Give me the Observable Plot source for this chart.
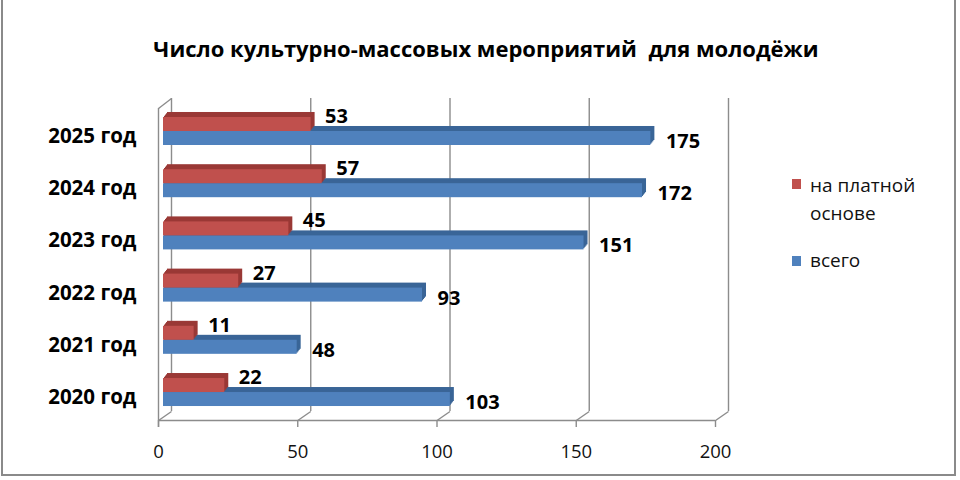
<!DOCTYPE html>
<html>
<head>
<meta charset="utf-8">
<script src="https://cdn.jsdelivr.net/npm/d3@7"></script>
<script src="https://cdn.jsdelivr.net/npm/@observablehq/plot@0.6"></script>
<style>
  html, body { margin: 0; padding: 0; background: #fff; }
  #wrap { position: relative; width: 960px; height: 480px; overflow: hidden; font-family: "Open Sans", sans-serif; }
  #frame { position: absolute; left: 1px; top: -3px; width: 955px; height: 479px; border: 2px solid #8a8a8a; box-sizing: border-box; }
  #title { position: absolute; left: 6px; top: 36px; width: 960px; text-align: center; font-weight: bold; font-size: 22px; line-height: 24px; color: #000; white-space: pre; }
  #chart { position: absolute; left: 0; top: 0; }
  .lg { position: absolute; font-size: 19px; line-height: 28px; color: #111; }
  .sw { position: absolute; width: 9px; height: 10px; }
</style>
</head>
<body>
<div id="wrap">
  <div id="frame"></div>
  <div id="chart"></div>
  <div id="title"></div>
  <div id="legend"></div>
</div>
<script>
const title = "Число культурно-массовых мероприятий  для молодёжи";
const years = ["2020 год", "2021 год", "2022 год", "2023 год", "2024 год", "2025 год"];
const paid = [22, 11, 27, 45, 57, 53];
const total = [103, 48, 93, 151, 172, 175];
const xTicks = [0, 50, 100, 150, 200];
const seriesNames = ["на платной основе", "всего"];
const seriesColors = ["#C0504D", "#4F81BD"];
const seriesShade = ["#9A3936", "#3A6597"];

document.getElementById("title").textContent = title;

const rows = years.map((year, i) => ({year, i, paid: paid[i], total: total[i]}));

// scale geometry
const W = 960, H = 480;
const mL = 163, mR = 240, mT = 98, mB = 60;
const xDom = [0, 200];
const yDom = [-0.536, 5.632];
const ux = (xDom[1] - xDom[0]) / (W - mL - mR);      // data units per px (x)
const uy = (yDom[1] - yDom[0]) / (H - mT - mB);      // data units per px (y)
const h = 14 * uy;                                   // bar thickness
const backFloor = yDom[0] + 9 * uy;
const frontFloor = yDom[0];
const grid = "#8c8c8c";

const depth = [4, 3, 2, 1];
const shadeLayers = (key, k) => depth.map(d => Plot.rect(rows, {
  x1: 0, x2: r => r[key],
  y1: r => k === 0 ? r.i : r.i - h,
  y2: r => k === 0 ? r.i + h : r.i,
  dx: d, dy: -1.25 * d,
  fill: seriesShade[k]
}));

const chart = Plot.plot({
  width: W, height: H,
  marginLeft: mL, marginRight: mR, marginTop: mT, marginBottom: mB,
  x: {domain: xDom, axis: null},
  y: {domain: yDom, axis: null},
  style: {fontFamily: "Open Sans, sans-serif", background: "transparent", overflow: "visible"},
  marks: [
    // back wall gridlines
    Plot.ruleX(xTicks, {x: d => d, dx: 8, y1: backFloor, y2: yDom[1], stroke: grid, strokeWidth: 1.4}),
    // floor slants
    Plot.link(xTicks, {x1: d => d + 8 * ux, y1: backFloor, x2: d => d - 5 * ux, y2: frontFloor, stroke: grid, strokeWidth: 1.4}),
    // front axis line and ticks
    Plot.ruleY([frontFloor], {x1: -5 * ux, x2: xDom[1] - 5 * ux, stroke: grid, strokeWidth: 1.4}),
    Plot.ruleX(xTicks, {x: d => d - 5 * ux, y1: frontFloor, y2: frontFloor - 7 * uy, stroke: grid, strokeWidth: 1.4}),
    // left wall
    Plot.ruleX([0], {x: -5 * ux, y1: frontFloor - 7 * uy, y2: yDom[1] - 10 * uy, stroke: grid, strokeWidth: 1.4}),
    Plot.link([0], {x1: -5 * ux, y1: yDom[1] - 10 * uy, x2: 8 * ux, y2: yDom[1], stroke: grid, strokeWidth: 1.4}),
    // bars: total (blue)
    ...shadeLayers("total", 1),
    Plot.rect(rows, {x1: 0, x2: "total", y1: r => r.i - h, y2: r => r.i, fill: seriesColors[1]}),
    // bars: paid (red)
    ...shadeLayers("paid", 0),
    Plot.rect(rows, {x1: 0, x2: "paid", y1: r => r.i, y2: r => r.i + h, fill: seriesColors[0]}),
    // value labels
    Plot.text(rows, {x: "total", y: r => r.i - h / 2, text: r => String(r.total), dx: 15, dy: 3, textAnchor: "start", fontWeight: "bold", fontSize: 20, fill: "#000"}),
    Plot.text(rows, {x: "paid", y: r => r.i + h / 2, text: r => String(r.paid), dx: 14, dy: -8, textAnchor: "start", fontWeight: "bold", fontSize: 20, fill: "#000"}),
    // category labels
    Plot.text(rows, {x: 0, y: "i", text: "year", dx: -27, dy: 5, textAnchor: "end", fontWeight: "bold", fontSize: 20.5, fill: "#000"}),
    // x tick labels
    Plot.text(xTicks, {x: d => d - 5 * ux, y: frontFloor, text: d => String(d), dy: 32, fontSize: 18.5, fill: "#111"})
  ]
});
document.getElementById("chart").appendChild(chart);

// legend
const legend = document.getElementById("legend");
const lgItems = [
  {name: "на платной", name2: "основе", color: seriesColors[0], top: 171, sq: 179},
  {name: "всего", name2: null, color: seriesColors[1], top: 246, sq: 256}
];
lgItems.forEach((it, k) => {
  const sw = document.createElement("div");
  sw.className = "sw"; sw.style.left = "792px"; sw.style.top = it.sq + "px"; sw.style.background = it.color;
  legend.appendChild(sw);
  const t = document.createElement("div");
  t.className = "lg"; t.style.left = "810px"; t.style.top = it.top + "px";
  t.innerHTML = it.name + (it.name2 ? "<br>" + it.name2 : "");
  legend.appendChild(t);
});
</script>
</body>
</html>
